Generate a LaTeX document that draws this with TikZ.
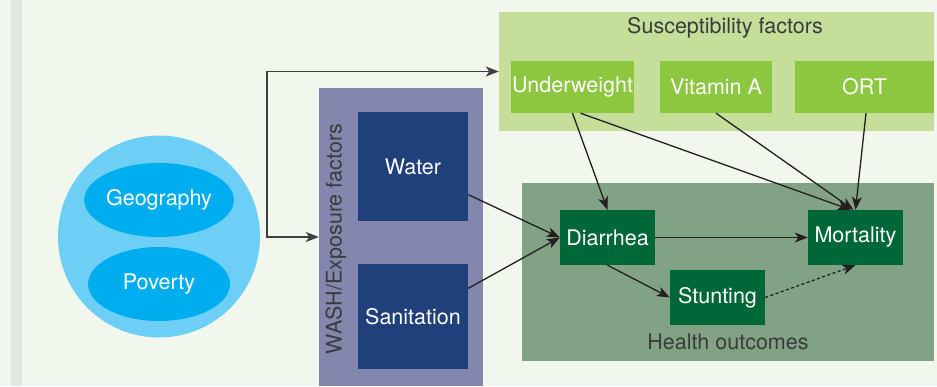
\documentclass[tikz,border=0pt]{standalone}
\usepackage{fontspec}
\setmainfont{TeX Gyre Heros}
\usepackage{xcolor}
\usetikzlibrary{
  shapes.geometric, arrows.meta, positioning, calc
}
\definecolor{pagebg}{HTML}{F2F7EE}
\definecolor{stripgray}{HTML}{E3E7E3}
\definecolor{skyblue}{HTML}{6DCFF6}
\definecolor{deepsky}{HTML}{00AEEF}
\definecolor{washpurple}{HTML}{8386AD}
\definecolor{washnavy}{HTML}{1F407A}
\definecolor{suspale}{HTML}{C5DF9B}
\definecolor{susgreen}{HTML}{8DC63F}
\definecolor{healthsage}{HTML}{82A285}
\definecolor{healthdark}{HTML}{006838}
\definecolor{inkdark}{HTML}{231F20}
\definecolor{labelgray}{HTML}{3B3B3B}
\tikzset{
  bigfont/.style={font=\fontsize{21.5}{25}\selectfont},
  groupbox/.style={
    rectangle, inner sep=0pt, draw=none
  },
  factorbox/.style={
    rectangle, bigfont, text=white, inner sep=0pt, align=center
  },
  washbox/.style={factorbox, fill=washnavy, minimum width=110pt},
  susbox/.style={factorbox, fill=susgreen, minimum height=52pt},
  outcomebox/.style={
    factorbox, fill=healthdark, minimum width=95pt, minimum height=55pt
  },
  contextblob/.style={
    ellipse, fill=deepsky, bigfont, text=white, inner sep=0pt,
    minimum width=142pt, minimum height=74pt
  },
  grouplabel/.style={bigfont, text=labelgray, inner sep=0pt},
  causearrow/.style={
    -{Stealth[length=13pt, width=10pt, inset=3.5pt]}, line width=1.3pt,
    color=inkdark
  },
  forkline/.style={
    {Stealth[length=13pt, width=10pt, inset=3.5pt]}-{Stealth[length=13pt, width=10pt, inset=3.5pt]},
    line width=1.4pt, color=black!75
  },
}

\begin{document}
\begin{tikzpicture}[x=1pt, y=-1pt]
  % ── Canvas ─────────────────────────────────────────────────────
  \useasboundingbox (0,0) rectangle (937,386);
  \fill[pagebg] (0,0) rectangle (937,386);
  \fill[stripgray] (11,0) rectangle (22,386);

  % ── Context (geography / poverty) ──────────────────────────────
  \node[circle, fill=skyblue, minimum size=202pt, inner sep=0pt]
    (context) at (159,236.5) {};
  \node[contextblob] (geography) at (159,200) {Geography};
  \node[contextblob] (poverty) at (159,284) {Poverty};

  % ── Group panels ───────────────────────────────────────────────
  \node[groupbox, fill=washpurple, minimum width=164pt, minimum height=298pt]
    (wash) at (401,237) {};
  \node[groupbox, fill=suspale, minimum width=435pt, minimum height=119pt]
    (susc) at (716.5,71.5) {};
  \node[groupbox, fill=healthsage, minimum width=412pt, minimum height=178pt]
    (health) at (728,272) {};

  \node[grouplabel, rotate=90] (washlabel) at (336,239)
    {WASH/Exposure factors};
  \node[grouplabel] (suslabel) at (725,28) {Susceptibility factors};
  \node[grouplabel] (healthlabel) at (728,342) {Health outcomes};

  % ── Exposure factors ───────────────────────────────────────────
  \node[washbox, minimum height=109pt] (water) at (413,166.5) {Water};
  \node[washbox, minimum height=105pt] (sanitation) at (413,316.5)
    {Sanitation};

  % ── Susceptibility factors ─────────────────────────────────────
  \node[susbox, minimum width=123pt] (underweight) at (572.5,87)
    {Underweight};
  \node[susbox, minimum width=112pt] (vitamin) at (716,87) {Vitamin A};
  \node[susbox, minimum width=139pt] (ort) at (864.5,87) {ORT};

  % ── Health outcomes ────────────────────────────────────────────
  \node[outcomebox] (diarrhea) at (607.5,237.5) {Diarrhea};
  \node[outcomebox] (mortality) at (855.5,237.5) {Mortality};
  \node[outcomebox] (stunting) at (717.5,297.5) {Stunting};

  % ── Fork from context ──────────────────────────────────────────
  \coordinate (fork) at (267,237);
  \draw[forkline] (wash.west) -- (fork) |- (susc.west);

  % ── Causal links ───────────────────────────────────────────────
  \draw[causearrow] (water.-27) -- (diarrhea.west);
  \draw[causearrow] (sanitation.27) -- (diarrhea.west);
  \draw[causearrow] (underweight.south) -- (diarrhea.north);
  \draw[causearrow] ([xshift=8pt]underweight.south)
    -- ([xshift=-5pt]mortality.north);
  \draw[causearrow] (vitamin.south) -- ([xshift=-2pt]mortality.north);
  \draw[causearrow] ([xshift=1.5pt]ort.south) -- (mortality.north);
  \draw[causearrow] (diarrhea.east) -- (mortality.west);
  \draw[causearrow] (diarrhea.south) -- (stunting.west);
  \draw[causearrow, dash pattern=on 3pt off 2.5pt]
    (stunting.east) -- (mortality.south);
\end{tikzpicture}
\end{document}
